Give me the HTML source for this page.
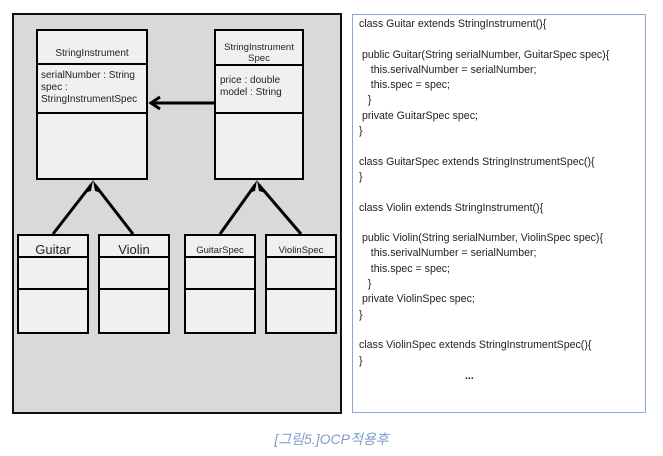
<!DOCTYPE html>
<html><head><meta charset="utf-8"><style>
body{margin:0;width:663px;height:456px;background:#fff;position:relative;overflow:hidden;font-family:"Liberation Sans","Noto Sans CJK KR",sans-serif}
.code{position:absolute;left:352px;top:14px;width:294px;height:399px;border:1px solid #8aa8d0;box-sizing:border-box}
.code pre{margin:0;position:absolute;left:6px;top:2px;font-family:"Liberation Sans",sans-serif;font-size:10.6px;line-height:15.3px;color:#222}
.cap{position:absolute;left:0;width:663px;top:429px;text-align:center;font-style:italic;font-size:14px;color:#7f9cc8;font-family:"Liberation Sans","Noto Sans CJK KR",sans-serif}
</style></head><body>
<svg width="663" height="456" style="position:absolute;left:0;top:0" font-family="Liberation Sans, sans-serif">
<rect x="13" y="14" width="328" height="399" fill="#d9d9d9" stroke="#111" stroke-width="2"/>
<g stroke="#000" stroke-width="2" fill="#f0f0f0">
<rect x="37" y="30" width="110" height="149"/><line x1="37" y1="64" x2="147" y2="64"/><line x1="37" y1="113" x2="147" y2="113"/>
<rect x="215" y="30" width="88" height="149"/><line x1="215" y1="65" x2="303" y2="65"/><line x1="215" y1="113" x2="303" y2="113"/>
<rect x="18" y="235" width="70" height="98"/><line x1="18" y1="257" x2="88" y2="257"/><line x1="18" y1="289" x2="88" y2="289"/>
<rect x="99" y="235" width="70" height="98"/><line x1="99" y1="257" x2="169" y2="257"/><line x1="99" y1="289" x2="169" y2="289"/>
<rect x="185" y="235" width="70" height="98"/><line x1="185" y1="257" x2="255" y2="257"/><line x1="185" y1="289" x2="255" y2="289"/>
<rect x="266" y="235" width="70" height="98"/><line x1="266" y1="257" x2="336" y2="257"/><line x1="266" y1="289" x2="336" y2="289"/>
</g>
<g stroke="#000" stroke-width="3" fill="none">
<line x1="214" y1="103" x2="152" y2="103"/>
<polyline points="160,97 151,103 160,109"/>
<line x1="53" y1="234" x2="91" y2="185"/><line x1="133" y1="234" x2="95" y2="185"/>
<line x1="220" y1="234" x2="255" y2="185"/><line x1="301" y1="234" x2="259" y2="185"/>
</g>
<g fill="#000">
<polygon points="93,180 84,193 91,191"/><polygon points="93,180 102,193 95,191"/>
<polygon points="257,180 248,193 255,191"/><polygon points="257,180 266,193 259,191"/>
</g>
<g font-size="10" fill="#222">
<text x="92" y="56" text-anchor="middle">StringInstrument</text>
<text x="41" y="78">serialNumber : String</text><text x="41" y="90">spec :</text><text x="41" y="102">StringInstrumentSpec</text>
<text x="259" y="50" text-anchor="middle" font-size="9.5">StringInstrument</text><text x="259" y="61" text-anchor="middle" font-size="9.5">Spec</text>
<text x="220" y="83">price : double</text><text x="220" y="95">model : String</text>
<text x="53" y="254" text-anchor="middle" font-size="13">Guitar</text>
<text x="134" y="254" text-anchor="middle" font-size="13">Violin</text>
<text x="220" y="253" text-anchor="middle" font-size="9.5">GuitarSpec</text>
<text x="301" y="253" text-anchor="middle" font-size="9.5">ViolinSpec</text>
</g>
</svg>
<div class="code"><pre>class Guitar extends StringInstrument(){

 public Guitar(String serialNumber, GuitarSpec spec){
    this.serivalNumber = serialNumber;
    this.spec = spec;
   }
 private GuitarSpec spec;
}

class GuitarSpec extends StringInstrumentSpec(){
}

class Violin extends StringInstrument(){

 public Violin(String serialNumber, ViolinSpec spec){
    this.serivalNumber = serialNumber;
    this.spec = spec;
   }
 private ViolinSpec spec;
}

class ViolinSpec extends StringInstrumentSpec(){
}
                                    <b>...</b></pre></div>
<div class="cap">[그림5.]OCP적용후</div>
</body></html>
